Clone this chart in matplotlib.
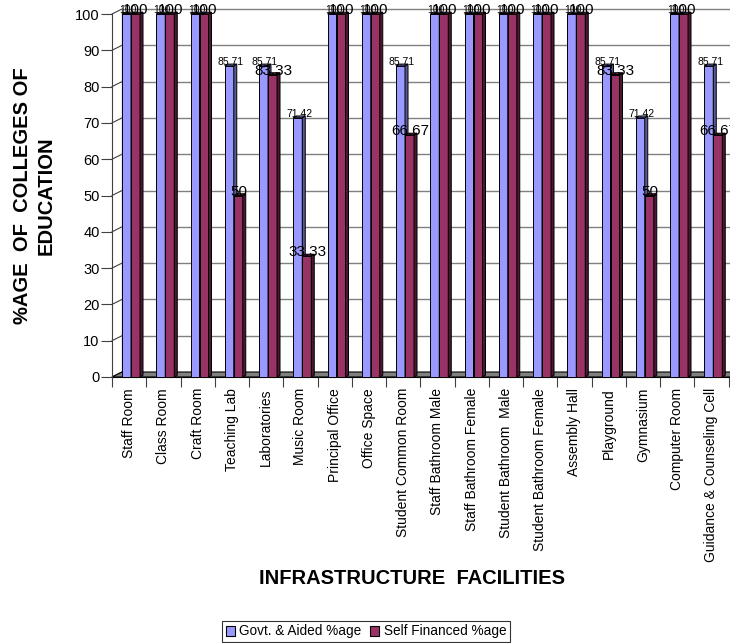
import matplotlib
matplotlib.use('Agg')
import matplotlib.pyplot as plt
from matplotlib.patches import Polygon, Patch
import numpy as np

plt.rcParams['font.family'] = ['Liberation Sans', 'DejaVu Sans']

categories = ['Staff Room', 'Class Room', 'Craft Room', 'Teaching Lab', 'Laboratories',
              'Music Room', 'Principal Office', 'Office Space', 'Student Common Room',
              'Staff Bathroom Male', 'Staff Bathroom Female', 'Student Bathroom  Male',
              'Student Bathroom Female', 'Assembly Hall', 'Playground', 'Gymnasium',
              'Computer Room', 'Guidance & Counseling Cell']
govt = [100, 100, 100, 85.71, 85.71, 71.42, 100, 100, 85.71, 100, 100, 100, 100, 100,
        85.71, 71.42, 100, 85.71]
self_fin = [100, 100, 100, 50, 83.33, 33.33, 100, 100, 66.67, 100, 100, 100, 100, 100,
            83.33, 50, 100, 66.67]
yticks = list(range(0, 101, 10))
series_names = ['Govt. & Aided %age', 'Self Financed %age']

c_govt, c_govt_side, c_govt_top = '#9999FF', '#5A5A99', '#7777CC'
c_self, c_self_side, c_self_top = '#993366', '#4A1830', '#6E2248'

W, H = 730, 643
fig = plt.figure(figsize=(W / 100, H / 100), dpi=100)
px_cat, px_unit = 34.25, 3.63
ax = fig.add_axes([112 / W, (H - 377) / H, (W - 112) / W, (377 - 9) / H])
xmin = -0.5
xmax = xmin + (W - 112) / px_cat
ax.set_xlim(xmin, xmax)
ax.set_ylim(0, (377 - 9) / px_unit)
dx, dy = 10 / px_cat, 5 / px_unit
sdx, sdy = 3 / px_cat, 1.8 / px_unit

# back wall grid
for v in yticks:
    if v > 0:
        ax.plot([xmin + dx, xmax + 1], [v + dy, v + dy], color='#808080', lw=1.0,
                zorder=1, clip_on=False)
    ax.plot([xmin, xmin + dx], [v, v + dy], color='#404040', lw=0.8, zorder=1, clip_on=False)
ax.plot([xmin + dx, xmin + dx], [dy, 100 + dy], color='#808080', lw=1.0, zorder=1)

# floor
floor = Polygon([(xmin, 0), (xmax + 1, 0), (xmax + 1 + dx, dy), (xmin + dx, dy)],
                closed=True, fc='#808080', ec='black', lw=0.8, zorder=1.5)
ax.add_patch(floor)

x = np.arange(len(categories))
w = 0.263
gx = x - 0.208
sx = x + 0.055

def faces(xs, vals, side_c, top_c, z):
    for xl, v in zip(xs, vals):
        side = Polygon([(xl + w, 0), (xl + w + sdx, sdy), (xl + w + sdx, v + sdy), (xl + w, v)],
                       closed=True, fc=side_c, ec='black', lw=0.7, zorder=z)
        top = Polygon([(xl, v), (xl + w, v), (xl + w + sdx, v + sdy), (xl + sdx, v + sdy)],
                      closed=True, fc=top_c, ec='black', lw=0.7, zorder=z)
        ax.add_patch(side)
        ax.add_patch(top)

ax.bar(gx, govt, width=w, align='edge', color=c_govt, edgecolor='black', lw=0.7, zorder=3)
faces(gx, govt, c_govt_side, c_govt_top, 3)
ax.bar(sx, self_fin, width=w, align='edge', color=c_self, edgecolor='black', lw=0.7, zorder=4)
faces(sx, self_fin, c_self_side, c_self_top, 4)

for xi, v in zip(x, govt):
    ax.text(xi - 0.035, v + 1.0, f'{v:g}', ha='center', va='center', fontsize=7.5, zorder=6)
for xi, v in zip(x, self_fin):
    ax.text(xi + 0.2, v + 1.0, f'{v:g}', ha='center', va='center', fontsize=11, zorder=6)

for s in ['top', 'right']:
    ax.spines[s].set_visible(False)
ax.spines['left'].set_bounds(0, 100)
ax.spines['left'].set_color('#404040')
ax.spines['left'].set_linewidth(0.8)
ax.spines['bottom'].set_color('black')
ax.spines['bottom'].set_linewidth(0.8)
ax.spines['bottom'].set_zorder(2)

ax.set_yticks(yticks)
ax.set_yticklabels([str(t) for t in yticks])
ax.tick_params(axis='y', length=8, width=0.8, color='#404040', labelsize=10.5, pad=1)
ax.set_xticks(x)
ax.set_xticklabels(categories, rotation=90, fontsize=10)
ax.tick_params(axis='x', which='major', length=0, pad=8)
ax.set_xticks(np.arange(-0.5, len(categories), 1), minor=True)
ax.tick_params(axis='x', which='minor', length=7, width=0.8, color='#404040')

fig.text(34.5 / W, 1 - 196 / H, '%AGE  OF  COLLEGES OF\nEDUCATION', rotation=90,
         ha='center', va='center', fontsize=14.5, fontweight='bold',
         multialignment='center', linespacing=1.3)
fig.text(412 / W, 1 - 578 / H, 'INFRASTRUCTURE  FACILITIES', ha='center', va='center',
         fontsize=14.5, fontweight='bold')

handles = [Patch(fc=c_govt, ec='black', lw=0.8, label=series_names[0]),
           Patch(fc=c_self, ec='black', lw=0.8, label=series_names[1])]
leg = fig.legend(handles=handles, loc='center', bbox_to_anchor=(366 / W, 11.5 / H), ncol=2,
                 fontsize=9.8, frameon=True, fancybox=False, edgecolor='black',
                 handlelength=0.7, handleheight=0.7, handletextpad=0.3, columnspacing=0.6,
                 borderpad=0.25, borderaxespad=0)
leg.get_frame().set_linewidth(0.8)

fig.savefig('out.png', dpi=100)
